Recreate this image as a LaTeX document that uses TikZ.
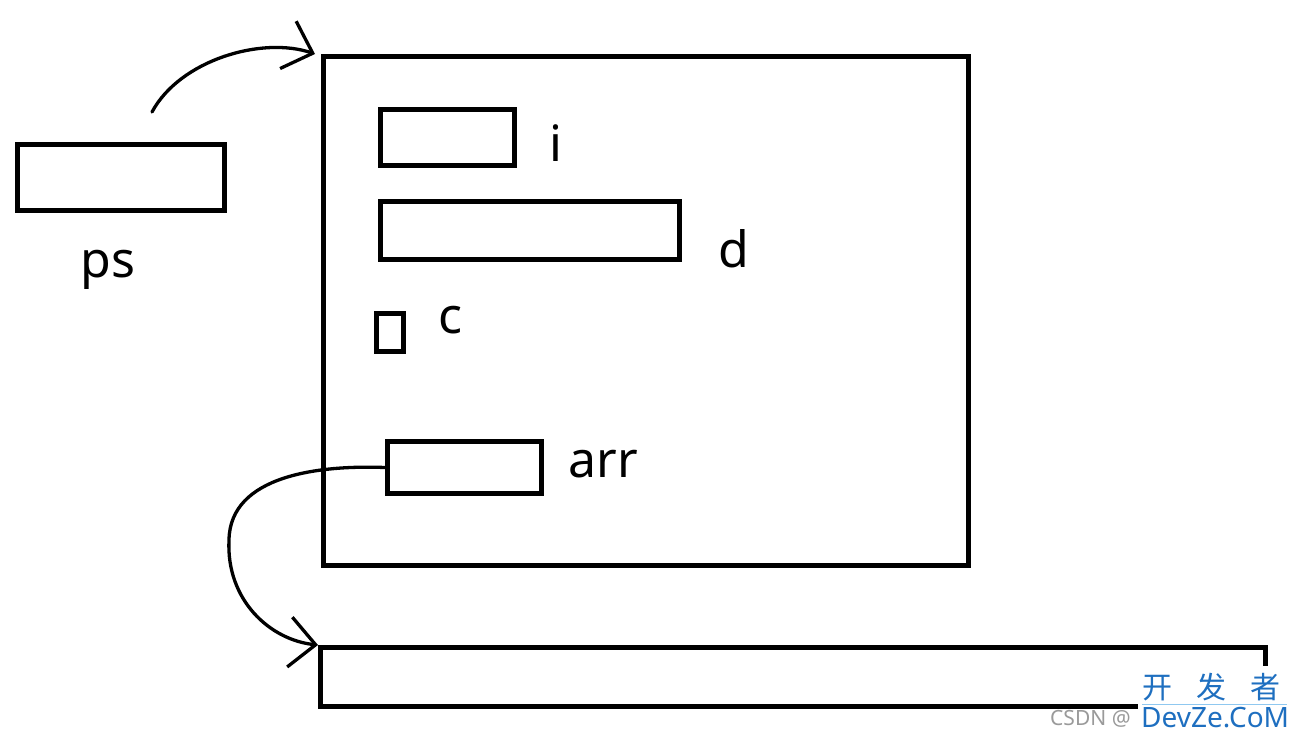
\documentclass[tikz,border=0pt]{standalone}
\usepackage{fontspec}
\setmainfont{Noto Sans}
\newfontfamily\cjkfont{Noto Sans CJK SC}
\usetikzlibrary{arrows.meta}
\definecolor{ink}{HTML}{000000}
\definecolor{wmblue}{HTML}{1E6FC0}
\definecolor{wmgrey}{HTML}{9A9A9A}
\definecolor{wmline}{HTML}{8FC8F0}

\begin{document}
\begin{tikzpicture}[x=1pt,y=-1pt]
  \tikzstyle{bx}=[rectangle,draw=ink,line width=5pt,inner sep=0pt]
  \tikzstyle{lb}=[anchor=base,inner sep=0pt,font=\fontsize{50}{60}\selectfont,text=ink]
  \tikzstyle{cv}=[draw=ink,line width=3.3pt,line cap=round,-{Straight Barb[length=26pt,width=50pt]}]
  \tikzstyle{wm}=[anchor=base west,inner sep=0pt]
  \useasboundingbox[fill=white] (0,0) rectangle (1297,739);
  % pointer and the struct it points to
  \node[bx,minimum width=207,minimum height=66] (ps) at (121,177.5) {};
  \node[lb] (pslb) at (108,277) {ps};
  \node[bx,minimum width=645,minimum height=509] (main) at (646,311) {};
  \node[bx,minimum width=134,minimum height=56] (ibox) at (447.5,137.5) {};
  \node[lb] (ilb) at (556,161) {i};
  \node[bx,minimum width=299,minimum height=58] (dbox) at (530,230.5) {};
  \node[lb] (dlb) at (734,267) {d};
  \node[bx,minimum width=27,minimum height=38] (cbox) at (390,332.5) {};
  \node[lb] (clb) at (450,333) {c};
  \node[bx,minimum width=154,minimum height=52] (arr) at (464.5,467.5) {};
  \node[lb] (arrlb) at (603,477) {arr};
  % flexible array storage
  \node[bx,minimum width=945,minimum height=59] (bot) at (793,677) {};
  \coordinate (pstail) at (152,112);
  \draw[cv] (pstail) .. controls (180,60) and (262,36) .. ([xshift=-6pt]main.north west);
  \draw[cv] (arr.west) .. controls (320,465) and (230,475) .. (229,540)
    .. controls (226,600) and (270,640) .. (bot.north west);
  % watermark
  \node[wm,text=wmgrey,font=\fontsize{21}{25}\selectfont] (csdn) at (1050,725) {CSDN @};
  \fill[white] (1138,666) rectangle (1292,732);
  \draw[wmline,line width=1pt] (1142,704) -- (1287,704);
  \node[wm,text=wmblue,font=\cjkfont\fontsize{30}{36}\selectfont] (wmcn) at (1142,698) {开\hspace{24pt}发\hspace{24pt}者};
  \node[wm,text=wmblue,font=\fontsize{28}{34}\selectfont] (wmen) at (1141,727) {DevZe.CoM};
\end{tikzpicture}
\end{document}
